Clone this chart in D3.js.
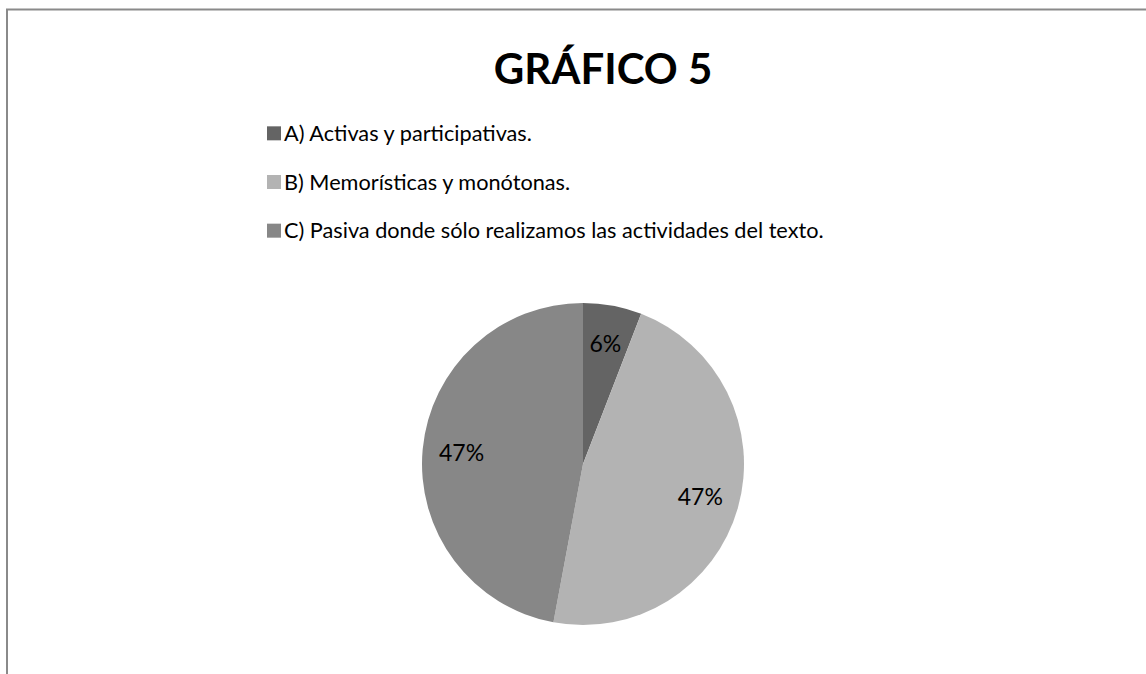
<!DOCTYPE html>
<html><head><meta charset="utf-8">
<script src="https://cdn.jsdelivr.net/npm/d3@7"></script>
<style>
html,body{margin:0;padding:0;background:#fff;}
svg{display:block;}
text{font-family:Lato,"Open Sans",sans-serif;fill:#000;}
</style></head>
<body>
<svg id="chart" width="1146" height="674"></svg>
<script>
const title = "GRÁFICO 5";
const categories = [
  "A) Activas y participativas.",
  "B) Memorísticas y monótonas.",
  "C) Pasiva donde sólo realizamos las actividades del texto."
];
const values = [1, 8, 8];
const labels = ["6%", "47%", "47%"];
const colors = ["#646464", "#b3b3b3", "#878787"];

const svg = d3.select("#chart");

// frame (open at right/bottom as in reference)
svg.append("path")
  .attr("d", "M7,674 L7,9.5 L1146,9.5")
  .attr("fill", "none").attr("stroke", "#8a8a8a").attr("stroke-width", 2);

svg.append("text").attr("x", 603).attr("y", 84)
  .attr("text-anchor", "middle").attr("font-size", 42).attr("font-weight", "bold")
  .text(title);

const legendY = d3.scaleBand().domain(categories).range([109, 255]);
const lg = svg.append("g");
categories.forEach((c, i) => {
  const y = legendY(c) + legendY.bandwidth() / 2;
  lg.append("rect").attr("x", 267).attr("y", y - 7).attr("width", 14).attr("height", 14)
    .attr("fill", colors[i]);
  lg.append("text").attr("x", 284).attr("y", y + 7.5).attr("font-size", 21.7).text(c);
});

const cx = 583, cy = 464, r = 161;
const pie = d3.pie().sort(null).value(d => d)(values);
const arc = d3.arc().innerRadius(0).outerRadius(r);
const labelArc = d3.arc().innerRadius(122).outerRadius(122);
const g = svg.append("g").attr("transform", `translate(${cx},${cy})`);
g.selectAll("path").data(pie).join("path")
  .attr("d", arc).attr("fill", (d, i) => colors[i]);
g.selectAll("text").data(pie).join("text")
  .attr("transform", d => `translate(${labelArc.centroid(d)})`)
  .attr("text-anchor", "middle").attr("dy", "0.35em").attr("font-size", 23)
  .text((d, i) => labels[i]);
</script>
</body></html>
